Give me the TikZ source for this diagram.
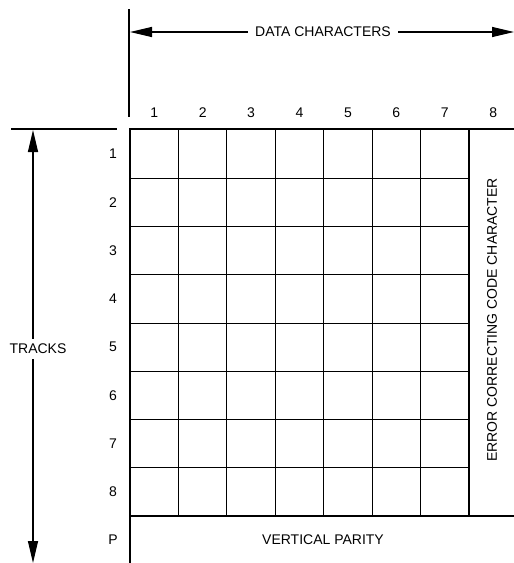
\documentclass[tikz,border=0pt]{standalone}
\usepackage{fontspec}
\setmainfont{Liberation Sans}
\usetikzlibrary{arrows.meta}
\tikzset{lbl/.style={font=\fontsize{14}{16}\selectfont,inner sep=1pt},
  dimarrow/.style={line width=1.3pt,-{Triangle[length=22pt,width=10pt]}}}

\begin{document}
\begin{tikzpicture}[x=1pt,y=-1pt]
\useasboundingbox(0,0)rectangle(514,563);
% frame and grid
\draw[line width=1.5pt](129,9)--(129,117);\draw[line width=1.5pt](11,129)--(117,129);
\draw[line width=1.5pt](514,129)--(130,129)--(130,563);
\draw[line width=2pt](469,129)--(469,516);\draw[line width=2pt](130,516)--(514,516);
\foreach\i in {1,...,6}\draw[line width=.8pt](130+48.43*\i,130)--(130+48.43*\i,516);
\foreach\j in {1,...,7}\draw[line width=.8pt](130,130+48.25*\j)--(469,130+48.25*\j);
% labels
\foreach\i in {1,...,8}\node[lbl](c\i)at(130+48.43*\i-24.2,113){\i};
\foreach\j in {1,...,8}\node[lbl](r\j)at(113,130+48.25*\j-24.1){\j};
\node[lbl](rP)at(113,540){P};
\node[lbl,inner xsep=7pt](data)at(323,32){DATA CHARACTERS};
\node[lbl,inner ysep=5pt](tracks)at(38,349){TRACKS};
\node[lbl,rotate=90](ecc)at(492,320){ERROR CORRECTING CODE CHARACTER};
\node[lbl](vp)at(323,540){VERTICAL PARITY};
% arrows
\coordinate(dL)at(130,32);\coordinate(dR)at(514,32);
\coordinate(tT)at(33,130);\coordinate(tB)at(33,563);
\draw[dimarrow](data)--(dL);\draw[dimarrow](data)--(dR);
\draw[dimarrow](tracks.north-|tT)--(tT);\draw[dimarrow](tracks.south-|tB)--(tB);
\end{tikzpicture}
\end{document}
